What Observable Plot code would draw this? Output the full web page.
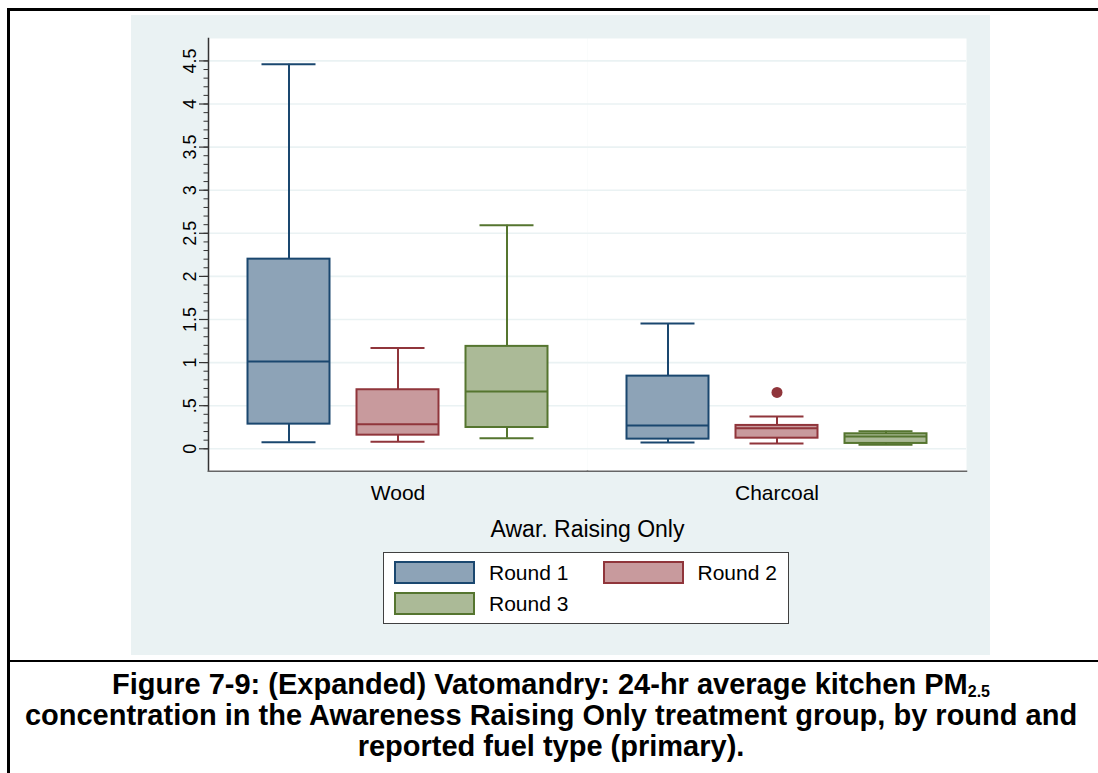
<!DOCTYPE html>
<html>
<head>
<meta charset="utf-8">
<script src="https://cdn.jsdelivr.net/npm/d3@7"></script>
<script src="https://cdn.jsdelivr.net/npm/@observablehq/plot@0.6"></script>
<style>
  html, body { margin: 0; padding: 0; background: #ffffff; }
  body { width: 1098px; height: 773px; position: relative; overflow: hidden;
         font-family: "Liberation Sans", Arial, sans-serif; }
  .line { position: absolute; background: #000; }
  #chart { position: absolute; left: 131px; top: 15px; }
  #legend { position: absolute; left: 383px; top: 552px; width: 406px; height: 72px;
            box-sizing: border-box; border: 1px solid #404040; background: #fff; }
  .sw { position: absolute; width: 81px; height: 23px; box-sizing: border-box; border: 2px solid; }
  .lt { position: absolute; font-size: 21px; line-height: 23px; color: #000; }
  #caption { position: absolute; left: 8px; width: 1086px; top: 669px; text-align: center;
             font-weight: bold; font-size: 29px; line-height: 31px; color: #000; white-space: nowrap; }
  #caption .sub { font-size: 16px; line-height: 16px; display: inline-block; vertical-align: -3px; }
</style>
</head>
<body>
<div class="line" style="left:7px;top:8px;width:1091px;height:2.5px"></div>
<div class="line" style="left:7px;top:8px;width:2.5px;height:765px"></div>
<div class="line" style="left:7px;top:659.5px;width:1091px;height:2.5px"></div>
<div id="chart"></div>
<div id="legend"></div>
<div id="caption">Figure 7-9: (Expanded) Vatomandry: 24-hr average kitchen PM<span class="sub">2.5</span><br>concentration in the Awareness Raising Only treatment group, by round and<br>reported fuel type (primary).</div>
<script>
// ---- data ----
const fuels = ["Wood", "Charcoal"];
const rounds = ["Round 1", "Round 2", "Round 3"];
// order: Wood R1, R2, R3, Charcoal R1, R2, R3
const whiskerLow  = [0.077, 0.081, 0.123, 0.073, 0.062, 0.046];
const q1          = [0.286, 0.158, 0.247, 0.112, 0.123, 0.062];
const median      = [1.014, 0.286, 0.666, 0.271, 0.239, 0.143];
const q3          = [2.200, 0.685, 1.188, 0.843, 0.271, 0.174];
const whiskerHigh = [4.460, 1.168, 2.593, 1.455, 0.375, 0.204];
const outlierFuel  = ["Charcoal"];
const outlierRound = ["Round 2"];
const outlierValue = [0.654];
const yTicks = [0, 0.5, 1, 1.5, 2, 2.5, 3, 3.5, 4, 4.5];
const yTickLabels = ["0", ".5", "1", "1.5", "2", "2.5", "3", "3.5", "4", "4.5"];
const yMinorTicks = d3.range(0, 46).map(i => i / 10);
const xTitle = "Awar. Raising Only";
const fills   = ["#8da3b7", "#c89a9d", "#abba97"];
const strokes = ["#1a476f", "#90353b", "#55752f"];

const boxes = fuels.flatMap((fuel, i) => rounds.map((round, j) => {
  const k = i * rounds.length + j;
  return {fuel, round, lo: whiskerLow[k], q1: q1[k], med: median[k], q3: q3[k], hi: whiskerHigh[k]};
}));
const outliers = outlierValue.map((value, i) => ({fuel: outlierFuel[i], round: outlierRound[i], value}));

const roundMarks = rounds.flatMap((round, j) => {
  const d = boxes.filter(b => b.round === round);
  const o = outliers.filter(b => b.round === round);
  const s = strokes[j];
  return [
    Plot.ruleX(d, {fx: "fuel", x: "round", y1: "q3", y2: "hi", stroke: s, strokeWidth: 2}),
    Plot.ruleX(d, {fx: "fuel", x: "round", y1: "lo", y2: "q1", stroke: s, strokeWidth: 2}),
    Plot.barY(d, {fx: "fuel", x: "round", y1: "q1", y2: "q3", fill: fills[j], stroke: s, strokeWidth: 2}),
    Plot.tickY(d, {fx: "fuel", x: "round", y: "med", stroke: s, strokeWidth: 2}),
    Plot.tickY(d, {fx: "fuel", x: "round", y: "hi", stroke: s, strokeWidth: 2, insetLeft: 14, insetRight: 14}),
    Plot.tickY(d, {fx: "fuel", x: "round", y: "lo", stroke: s, strokeWidth: 2, insetLeft: 14, insetRight: 14}),
    Plot.dot(o, {fx: "fuel", x: "round", y: "value", r: 5.5, fill: s, stroke: "none"})
  ];
});

const chart = Plot.plot({
  width: 859,
  height: 640,
  marginLeft: 76.5,
  marginRight: 23,
  marginTop: 23,
  marginBottom: 184.3,
  style: {background: "#eaf2f3", fontFamily: "Liberation Sans, Arial, sans-serif", color: "#000"},
  fx: {domain: fuels, paddingInner: 0, paddingOuter: 0},
  x: {domain: rounds, paddingInner: 0.25, paddingOuter: 0.35, axis: null},
  y: {domain: [-0.26, 4.76]},
  marks: [
    Plot.frame({fill: "#ffffff", stroke: "none"}),
    Plot.gridY(yTicks, {stroke: "#eaf2f3", strokeOpacity: 1, strokeWidth: 1.6}),
    Plot.axisY(yMinorTicks, {tickSize: 4.5, tickFormat: () => "", stroke: "#333", strokeWidth: 1, label: null}),
    Plot.axisY(yTicks, {tickSize: 9, tickPadding: 4, tickRotate: -90, fontSize: 18,
      tickFormat: d => yTickLabels[yTicks.indexOf(d)], stroke: "#333", strokeWidth: 1.2, label: null}),
    Plot.frame({anchor: "left", facetAnchor: "left", stroke: "#333", strokeWidth: 1.5}),
    Plot.frame({anchor: "bottom", stroke: "#666", strokeWidth: 1.5}),
    Plot.axisFx({anchor: "bottom", tickSize: 0, tickPadding: 13.5, fontSize: 21, label: null}),
    Plot.axisFx({anchor: "bottom", tickSize: 0, fontSize: 23, tickFormat: () => "",
      label: xTitle, labelAnchor: "center", labelOffset: 66}),
    ...roundMarks
  ]
});
document.getElementById("chart").appendChild(chart);

// legend
const legend = document.getElementById("legend");
const legendPos = [[10, 8], [218.5, 8], [10, 39]];
rounds.forEach((r, j) => {
  const [lx, ly] = legendPos[j];
  const sw = document.createElement("div");
  sw.className = "sw";
  sw.style.left = lx + "px"; sw.style.top = ly + "px";
  sw.style.background = fills[j]; sw.style.borderColor = strokes[j];
  legend.appendChild(sw);
  const t = document.createElement("div");
  t.className = "lt";
  t.style.left = (lx + 95) + "px"; t.style.top = ly + "px";
  t.textContent = r;
  legend.appendChild(t);
});
</script>
</body>
</html>
